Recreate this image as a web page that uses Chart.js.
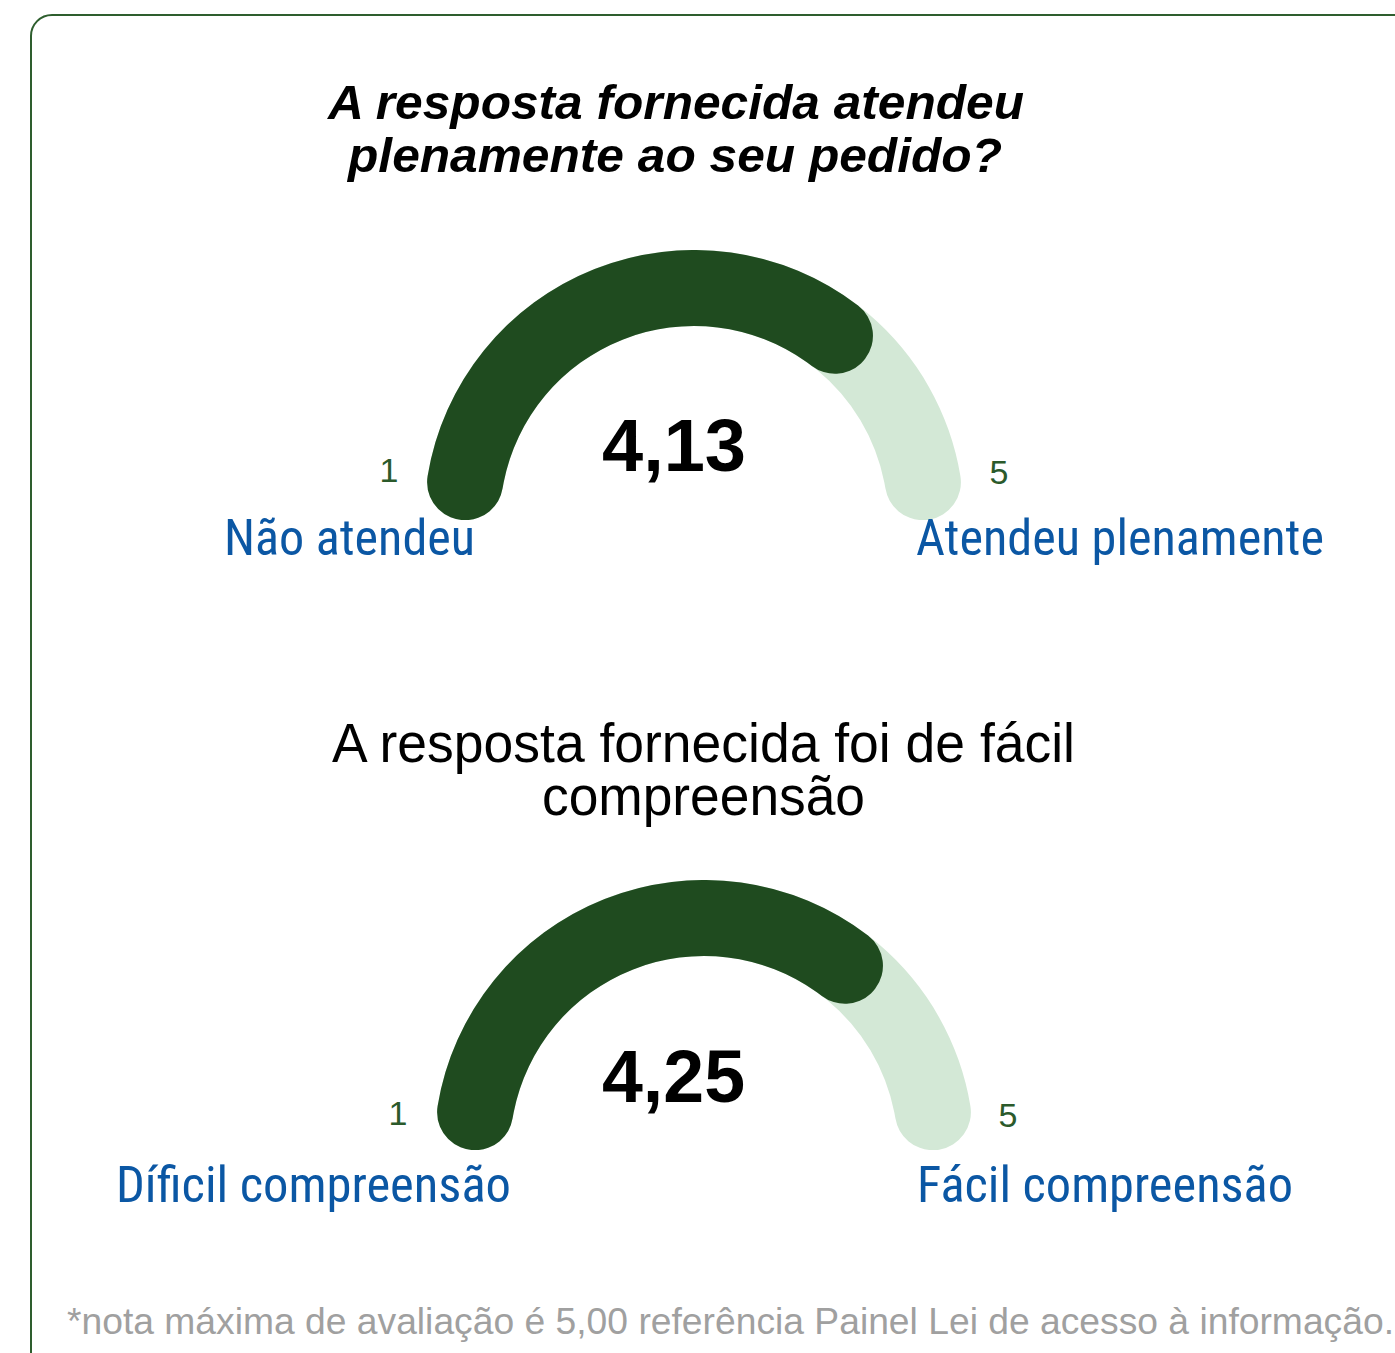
<!DOCTYPE html>
<html lang="pt-BR">
<head>
<meta charset="utf-8">
<title>Gauges</title>
<script src="https://cdn.jsdelivr.net/npm/chart.js@4.4.1/dist/chart.umd.min.js"></script>
<style>
  html, body { margin: 0; padding: 0; background: #ffffff; }
  body { width: 1395px; height: 1353px; position: relative; overflow: hidden; }
  .card { position: absolute; left: 30px; top: 14px; width: 1420px; height: 1420px;
          border: 2px solid #2e5e2e; border-radius: 22px; box-sizing: border-box; }
  .gauge { position: absolute; width: 540px; height: 270px; }
  .layer { position: absolute; left: 0; top: 0; width: 540px; height: 270px; }
  .txt { position: absolute; white-space: nowrap; line-height: 1; transform-origin: 0 0; }
</style>
</head>
<body>
<div class="card"></div>

<div class="gauge" id="g0" style="left:424px; top:250px;">
  <div class="layer"><canvas id="track0"></canvas></div>
  <div class="layer"><canvas id="value0"></canvas></div>
</div>
<div class="gauge" id="g1" style="left:434px; top:880px;">
  <div class="layer"><canvas id="track1"></canvas></div>
  <div class="layer"><canvas id="value1"></canvas></div>
</div>

<script>
// ---------------- DATA ----------------
const questionTitles = [
  ["A resposta fornecida atendeu", "plenamente ao seu pedido?"],
  ["A resposta fornecida foi de fácil", "compreensão"]
];
const scoreLabels = ["4,13", "4,25"];          // value shown in the centre
const arcPositions = [4.04, 4.04];             // where the dark arc ends
const scaleMin = 1;
const scaleMax = 5;
const minLabels = ["1", "1"];
const maxLabels = ["5", "5"];
const leftLabels = ["Não atendeu", "Díficil compreensão"];
const rightLabels = ["Atendeu plenamente", "Fácil compreensão"];
const footnote = "*nota máxima de avaliação é 5,00 referência Painel Lei de acesso à informação.";

// ---------------- STYLE ----------------
const DARK = "#1f4b1f";
const LIGHT = "#d3e8d6";
const BLUE = "#0b57a4";
const GREEN_TXT = "#2b5a2b";

// ---------------- GAUGES ----------------
function gaugeChart(id, values, colors) {
  return new Chart(document.getElementById(id), {
    type: "doughnut",
    data: {
      labels: values.map((_, i) => "s" + i),
      datasets: [{
        data: values,
        backgroundColor: colors,
        borderWidth: 0,
        borderRadius: 40,
        hoverOffset: 0
      }]
    },
    options: {
      responsive: true,
      maintainAspectRatio: false,
      animation: false,
      events: [],
      rotation: -90,
      circumference: 180,
      cutout: "71.85%",
      layout: { padding: 0 },
      plugins: { legend: { display: false }, tooltip: { enabled: false } }
    }
  });
}

for (let i = 0; i < 2; i++) {
  gaugeChart("track" + i, [scaleMax - scaleMin], [LIGHT]);
  gaugeChart("value" + i,
    [arcPositions[i] - scaleMin, scaleMax - arcPositions[i]],
    [DARK, "rgba(0,0,0,0)"]);
}

// ---------------- TEXT ----------------
function addText(str, font, color, pos) {
  const el = document.createElement("div");
  el.className = "txt";
  el.style.font = font;
  el.style.color = color;
  el.textContent = str;
  const probe = document.createElement("span");
  probe.style.display = "inline-block";
  probe.style.width = "0px";
  probe.style.height = "0px";
  el.appendChild(probe);
  el.style.left = "0px";
  el.style.top = "0px";
  document.body.appendChild(el);
  const r = el.getBoundingClientRect();
  const baseOff = probe.getBoundingClientRect().bottom - r.top;
  const w = r.width;
  let left, s = 1;
  if (pos.x1 !== undefined) {
    s = (pos.x1 - pos.x0) / w;
    left = pos.x0;
  } else {
    left = pos.cx - w / 2;
  }
  el.style.left = left + "px";
  el.style.top = (pos.base - baseOff) + "px";
  el.style.transform = "scaleX(" + s + ")";
}

const TITLE1 = "italic bold 49px 'Liberation Sans', Arial, sans-serif";
const TITLE2 = "55px 'Liberation Sans', Arial, sans-serif";
const SCORE = "bold 74px 'Liberation Sans', Arial, sans-serif";
const TICK = "34px 'Liberation Sans', Arial, sans-serif";
const LABEL = "50px 'Roboto Condensed', Roboto, sans-serif";
const NOTE = "36px 'Liberation Sans', Arial, sans-serif";

// gauge 1
addText(questionTitles[0][0], TITLE1, "#000", { x0: 328, x1: 1024, base: 119 });
addText(questionTitles[0][1], TITLE1, "#000", { x0: 348, x1: 1002, base: 172 });
addText(minLabels[0], TICK, GREEN_TXT, { cx: 389, base: 482 });
addText(maxLabels[0], TICK, GREEN_TXT, { cx: 999, base: 484 });
addText(scoreLabels[0], SCORE, "#000", { x0: 602, x1: 746, base: 471 });
addText(leftLabels[0], LABEL, BLUE, { x0: 224, x1: 475, base: 555 });
addText(rightLabels[0], LABEL, BLUE, { x0: 916, x1: 1324, base: 555 });

// gauge 2
addText(questionTitles[1][0], TITLE2, "#000", { x0: 332, x1: 1075, base: 762 });
addText(questionTitles[1][1], TITLE2, "#000", { x0: 542, x1: 865, base: 815 });
addText(minLabels[1], TICK, GREEN_TXT, { cx: 398, base: 1125 });
addText(maxLabels[1], TICK, GREEN_TXT, { cx: 1008, base: 1127 });
addText(scoreLabels[1], SCORE, "#000", { x0: 602, x1: 745, base: 1102 });
addText(leftLabels[1], LABEL, BLUE, { x0: 116, x1: 511, base: 1202 });
addText(rightLabels[1], LABEL, BLUE, { x0: 917, x1: 1293, base: 1202 });

// footnote
addText(footnote, NOTE, "#a0a0a0", { x0: 67, x1: 1394, base: 1334 });
</script>
</body>
</html>
